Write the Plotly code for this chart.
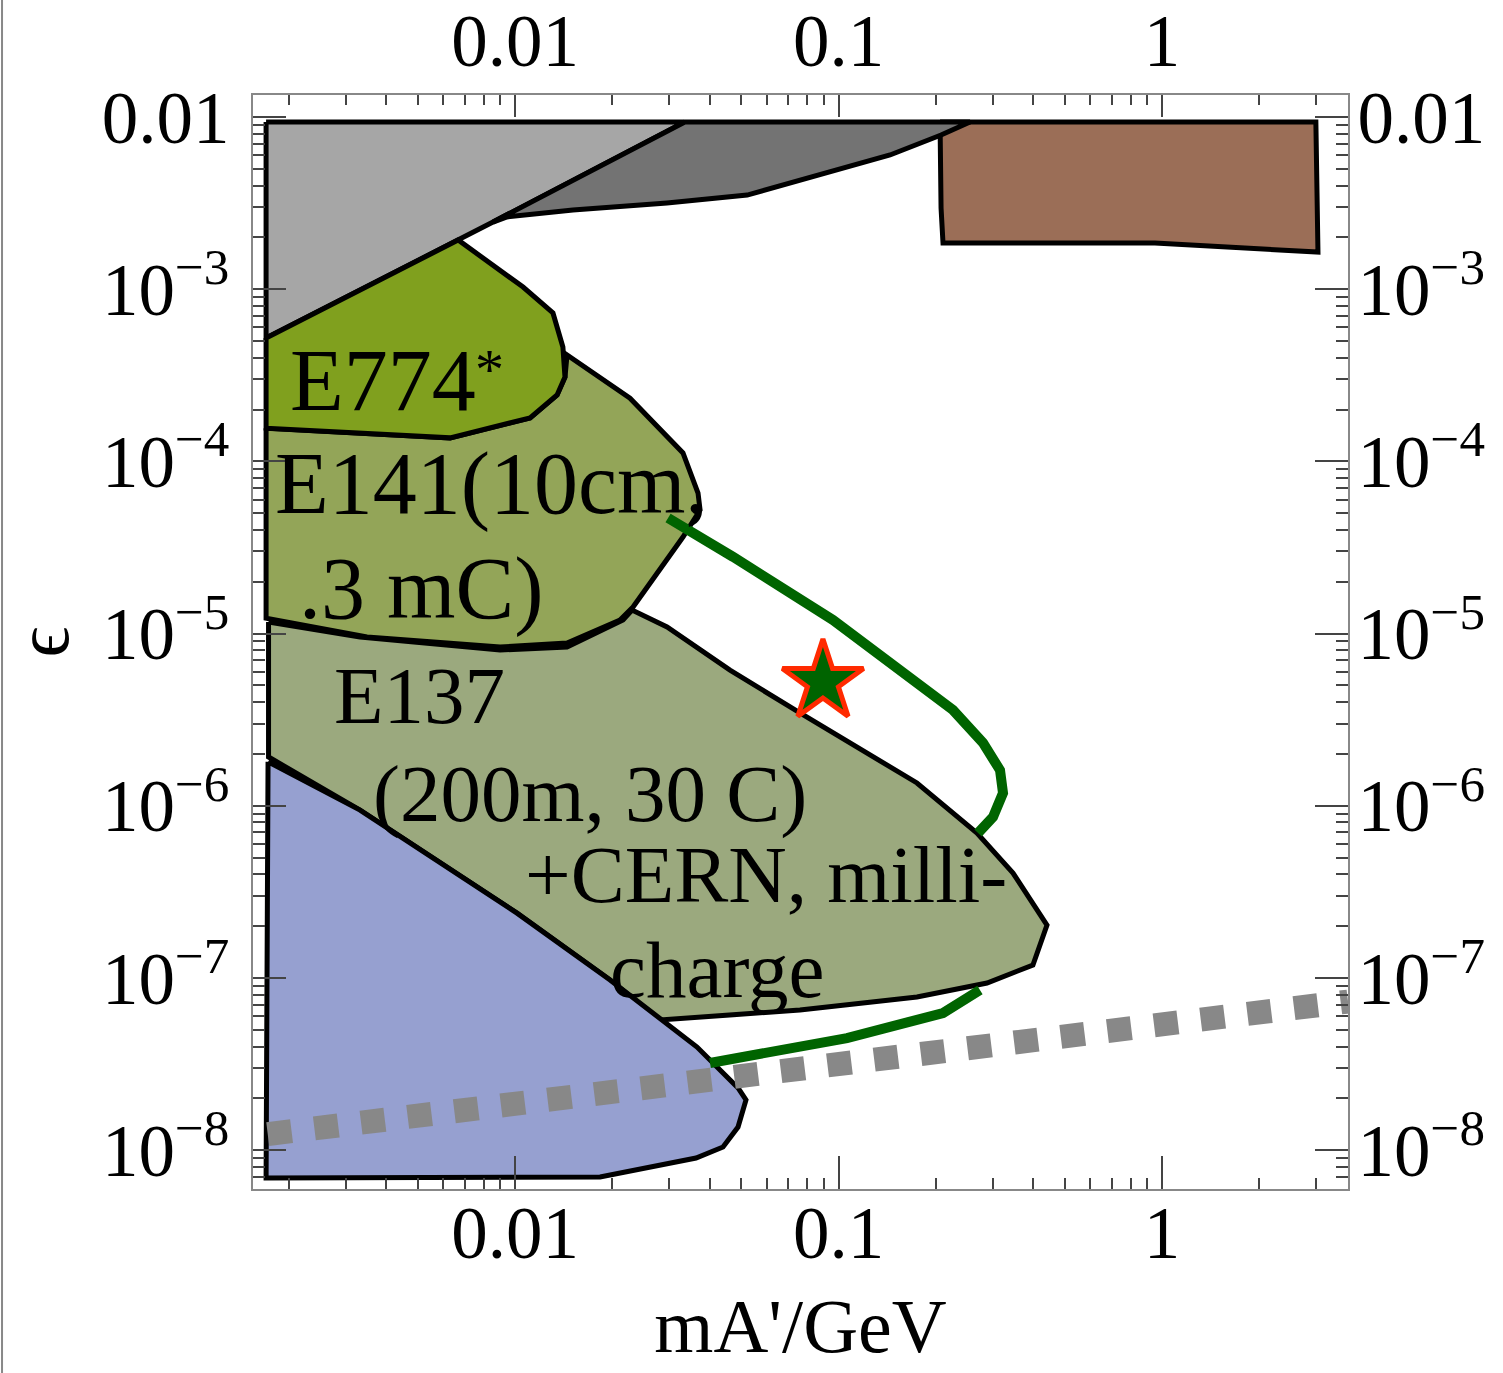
import numpy as np
import plotly.graph_objects as go

# ---------------- data (mass in GeV, epsilon) ----------------
light_gray_m = [0.00170, 0.0335, 0.00855, 0.00667, 0.00170, 0.00170]
light_gray_e = [9.35e-3, 9.35e-3, 2.455e-3, 1.93e-3, 5.21e-4, 9.35e-3]

dark_gray_m = [0.0335, 0.255, 0.2075, 0.1443, 0.0522, 0.0295, 0.0151, 0.00945, 0.00855, 0.0335]
dark_gray_e = [9.35e-3, 9.35e-3, 7.86e-3, 6.02e-3, 3.52e-3, 3.17e-3, 2.88e-3, 2.63e-3, 2.455e-3, 9.35e-3]

brown_m = [0.206, 2.99, 3.035, 0.951, 0.2104, 0.2075, 0.206]
brown_e = [9.35e-3, 9.35e-3, 1.644e-3, 1.854e-3, 1.854e-3, 2.96e-3, 9.35e-3]

e774_m = [0.00170, 0.00667, 0.01059, 0.0131, 0.01406, 0.01427, 0.01349, 0.01113, 0.0063, 0.00170, 0.00170]
e774_e = [5.21e-4, 1.93e-3, 1.03e-3, 7.28e-4, 4.62e-4, 3.09e-4, 2.43e-4, 1.79e-4, 1.37e-4, 1.56e-4, 5.21e-4]

e141_m = [0.00170, 0.0063, 0.01113, 0.01349, 0.01427, 0.01448, 0.02267, 0.03305, 0.03679,
          0.03733, 0.03305, 0.02316, 0.02111, 0.01448, 0.00899, 0.003487, 0.00170, 0.00170]
e141_e = [1.56e-4, 1.37e-4, 1.79e-4, 2.43e-4, 3.09e-4, 4.15e-4, 2.33e-4, 1.12e-4, 6.55e-5,
          5.22e-5, 3.64e-5, 1.427e-5, 1.2e-5, 8.82e-6, 8.36e-6, 9.56e-6, 1.23e-5, 1.56e-4]

e137_m = [0.00173, 0.003318, 0.00899, 0.01448, 0.02157, 0.0230, 0.02951, 0.04619, 0.076, 0.1748,
          0.268, 0.3463, 0.441, 0.399, 0.2878, 0.1748, 0.076, 0.02805, 0.01967, 0.01014,
          0.003318, 0.00173, 0.00173]
e137_e = [1.168e-5, 9.56e-6, 8.03e-6, 8.36e-6, 1.2e-5, 1.37e-5, 1.092e-5, 6.14e-6, 3.46e-6, 1.357e-6,
          6.95e-7, 4.07e-7, 2.03e-7, 1.19e-7, 9.35e-8, 7.76e-8, 6.52e-8, 5.7e-8, 9.74e-8, 2.38e-7,
          9.45e-7, 1.92e-6, 1.168e-5]

blue_m = [0.001724, 0.003318, 0.01014, 0.01967, 0.03653, 0.04891, 0.05176, 0.04891, 0.04395,
          0.03627, 0.01832, 0.00170, 0.001724]
blue_e = [1.80e-6, 9.45e-7, 2.38e-7, 9.74e-8, 3.97e-8, 2.30e-8, 1.96e-8, 1.364e-8, 1.043e-8,
          9.01e-9, 6.99e-9, 6.9e-9, 1.80e-6]

green_upper_m = [0.02972, 0.0472, 0.0961, 0.1663, 0.2259, 0.2797, 0.3157, 0.3225, 0.3004, 0.270]
green_upper_e = [4.69e-5, 2.79e-5, 1.2e-5, 5.6e-6, 3.6e-6, 2.32e-6, 1.61e-6, 1.187e-6, 8.61e-7, 6.95e-7]

green_lower_m = [0.04007, 0.1062, 0.2104, 0.2737]
green_lower_e = [3.21e-8, 4.48e-8, 6.26e-8, 8.52e-8]

dotted_m = [0.00172, 3.76]
dotted_e = [1.24e-8, 7.3e-8]

star_m = [0.0895]
star_e = [5.25e-6]

# labels: (text, mass, epsilon, font size)
labels = [
    ("E774", 0.001987, 2.95e-4, 88),
    ("*", 0.00742, 3.40e-4, 58),
    ("E141(10cm,", 0.001786, 7.45e-5, 88),
    (".3 mC)", 0.002118, 1.83e-5, 88),
    ("E137", 0.002718, 4.37e-6, 81),
    ("(200m, 30 C)", 0.00359, 1.164e-6, 81),
    ("+CERN, milli-", 0.01055, 3.99e-7, 81),
    ("charge", 0.01939, 1.12e-7, 81),
]

x_tickvals = [0.01, 0.1, 1]
x_ticktext = ["0.01", "0.1", "1"]
y_tickvals = [1e-2, 1e-3, 1e-4, 1e-5, 1e-6, 1e-7, 1e-8]
y_ticktext = ["0.01", "10<sup>\u22123</sup>", "10<sup>\u22124</sup>", "10<sup>\u22125</sup>",
              "10<sup>\u22126</sup>", "10<sup>\u22127</sup>", "10<sup>\u22128</sup>"]

XR = [-2.81, 0.575]
YR = [-8.2253, -1.8722]

FONT = "Liberation Serif, Times New Roman, serif"

fig = go.Figure()

def region(m, e, color):
    fig.add_trace(go.Scatter(x=m, y=e, mode="lines", fill="toself", fillcolor=color,
                             line=dict(color="black", width=5), hoverinfo="skip", showlegend=False))

region(brown_m, brown_e, "#9b6e57")
region(light_gray_m, light_gray_e, "#a6a6a6")
region(dark_gray_m, dark_gray_e, "#737373")
region(e137_m, e137_e, "#9ba97e")
region(blue_m, blue_e, "#96a0d0")
region(e141_m, e141_e, "#93a558")
region(e774_m, e774_e, "#80a01e")

fig.add_trace(go.Scatter(x=dotted_m, y=dotted_e, mode="lines",
                         line=dict(color="#888888", width=24, dash="24px,23px"),
                         hoverinfo="skip", showlegend=False))
for gm, ge in [(green_upper_m, green_upper_e), (green_lower_m, green_lower_e)]:
    fig.add_trace(go.Scatter(x=gm, y=ge, mode="lines", line=dict(color="#006400", width=10),
                             hoverinfo="skip", showlegend=False))

fig.add_trace(go.Scatter(x=star_m, y=star_e, mode="markers",
                         marker=dict(symbol="star", size=61, color="#006400",
                                     line=dict(color="#ff2a00", width=5)),
                         hoverinfo="skip", showlegend=False))

# invisible trace to host the mirrored top/right axes
fig.add_trace(go.Scatter(x=dotted_m, y=dotted_e, xaxis="x2", yaxis="y2", mode="lines",
                         line=dict(width=0), opacity=0, hoverinfo="skip", showlegend=False))

for text, m, e, fs in labels:
    fig.add_annotation(x=np.log10(m), y=np.log10(e), text=text, showarrow=False,
                       xanchor="left", yanchor="middle",
                       font=dict(family=FONT, size=fs, color="black"))

common = dict(type="log", showgrid=False, zeroline=False, showline=True,
              linecolor="#888888", linewidth=2, ticks="inside", tickcolor="#444444",
              tickwidth=1.5, tickmode="array", tickfont=dict(family=FONT, size=73, color="black"))

minor_x_bottom = dict(ticks="inside", ticklen=11, dtick="D1", tickcolor="#444444", tickwidth=1.5, showgrid=False)
minor_x_top = dict(ticks="inside", ticklen=10, dtick="D1", tickcolor="#444444", tickwidth=1.5, showgrid=False)
minor_y = dict(ticks="inside", ticklen=12, dtick="D1", tickcolor="#444444", tickwidth=1.5, showgrid=False)

fig.update_layout(
    width=1503, height=1373,
    margin=dict(l=253, r=155, t=95, b=184, autoexpand=False),
    paper_bgcolor="white", plot_bgcolor="white",
    font=dict(family=FONT, color="black"),
    xaxis=dict(**common, range=XR, tickvals=x_tickvals, ticktext=x_ticktext, ticklen=33,
               minor=minor_x_bottom, ticklabelstandoff=-21,
               title=dict(text="mA'/GeV", font=dict(family=FONT, size=76), standoff=26)),
    xaxis2=dict(**common, range=XR, tickvals=x_tickvals, ticktext=x_ticktext, ticklen=22,
                minor=minor_x_top, overlaying="x", side="top", anchor="y", ticklabelstandoff=-2),
    yaxis=dict(**common, range=YR, tickvals=y_tickvals, ticktext=y_ticktext, ticklen=33,
               minor=minor_y, ticklabelstandoff=7,
               title=dict(text="\u03f5", font=dict(family=FONT, size=76), standoff=56)),
    yaxis2=dict(**common, range=YR, tickvals=y_tickvals, ticktext=y_ticktext, ticklen=33,
                minor=minor_y, overlaying="y", side="right", anchor="x", ticklabelstandoff=-7),
    shapes=[dict(type="line", xref="paper", yref="paper", x0=-0.2292, x1=-0.2292,
                 y0=-0.17, y1=1.09, line=dict(color="#888888", width=2))],
)

fig.write_html("out.html", config={"displayModeBar": False},
               post_script="document.body.style.margin='0';document.body.style.overflow='hidden';")
